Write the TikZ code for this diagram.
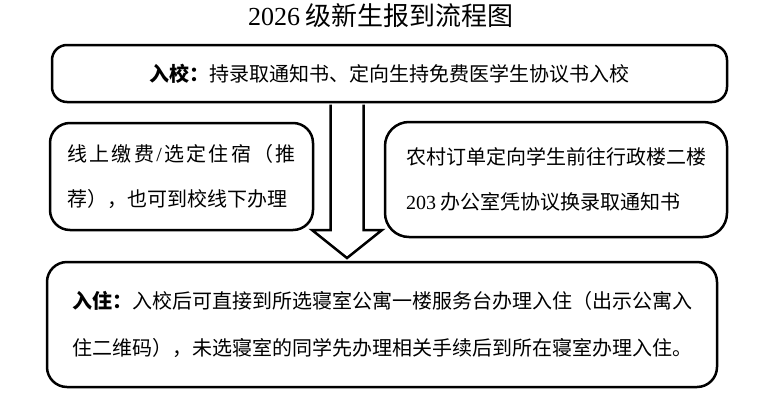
\documentclass[tikz,border=0pt]{standalone}
\usepackage{fontspec}
\setmainfont{Liberation Serif}
\newfontfamily\cjk{Noto Sans CJK SC}
\usetikzlibrary{positioning,calc}
\newcommand{\lat}[1]{{\rmfamily #1}}

\begin{document}
\begin{tikzpicture}[x=1pt, y=-1pt,
    stepbox/.style={draw, line width=2.5pt, rounded corners=20pt, align=left, inner sep=0pt,
        font=\cjk\fontsize{20}{45}\selectfont},
    bigarrow/.style={draw, line width=2.5pt, fill=white, line join=miter}]
    \useasboundingbox (0,0) rectangle (760,402);

    \node (title) at (381,16) {\cjk\fontsize{26}{30}\selectfont \lat{2026} 级新生报到流程图};

    \node (enter) [stepbox, rounded corners=15pt, minimum width=675pt, minimum height=57pt] at (389.5,73.5)
        {\textbf{入校：}持录取通知书、定向生持免费医学生协议书入校};
    \node (pay) [stepbox, minimum width=263pt, minimum height=107pt] at (181.5,176.5)
        {\makebox[228pt][s]{线\hfill 上\hfill 缴\hfill 费\hfill \lat{/}\hfill 选\hfill 定\hfill 住\hfill 宿\hfill （\hfill 推}\\
         荐），也可到校线下办理};
    \node (order) [stepbox, rounded corners=24pt, minimum width=342pt, minimum height=115pt] at (556,179.5)
        {农村订单定向学生前往行政楼二楼\\
         \lat{203} 办公室凭协议换录取通知书};
    \node (stay) [stepbox, font=\cjk\fontsize{20}{47}\selectfont, minimum width=670pt, minimum height=125pt] at (382,324.5)
        {\textbf{入住：}入校后可直接到所选寝室公寓一楼服务台办理入住（出示公寓入\\
         住二维码），未选寝室的同学先办理相关手续后到所在寝室办理入住。};

    % big arrow from enter down to stay
    \coordinate (tip) at (347,258);
    \path (tip |- enter.south) coordinate (top);
    \draw[bigarrow] ($(top)+(-16.5,1.3)$) -- ($(tip)+(-16.5,-28)$) -- ($(tip)+(-35,-28)$) -- (tip)
        -- ($(tip)+(35,-28)$) -- ($(tip)+(16.5,-28)$) -- ($(top)+(16.5,1.3)$);
\end{tikzpicture}
\end{document}
